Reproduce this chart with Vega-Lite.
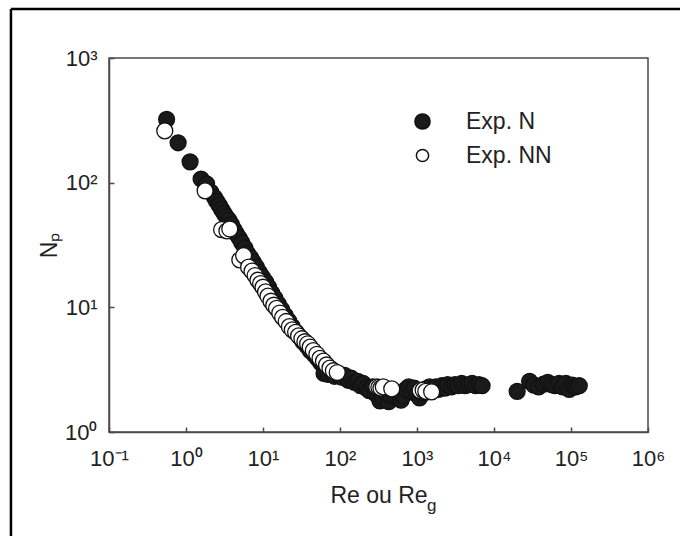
{
  "$schema": "https://vega.github.io/schema/vega-lite/v6.json",
  "width": 539,
  "height": 374,
  "autosize": {"type": "none"},
  "padding": {"left": 109, "top": 58, "right": 32, "bottom": 104},
  "background": "white",
  "config": {
    "view": {"stroke": "#4a4a4a", "strokeWidth": 1.5},
    "font": "Liberation Sans",
    "axis": {
      "grid": false,
      "domainColor": "#4a4a4a",
      "domainWidth": 1.5,
      "tickColor": "#4a4a4a",
      "tickWidth": 1.5,
      "tickSize": -5,
      "labelFont": "Liberation Sans",
      "labelFontSize": 22,
      "labelColor": "#222",
      "titleFont": "Liberation Sans",
      "titleFontSize": 23,
      "titleFontWeight": "normal",
      "titleColor": "#222"
    },
    "legend": {
      "labelFont": "Liberation Sans",
      "labelFontSize": 23,
      "labelColor": "#222"
    }
  },
  "layer": [
    {
      "data": {
        "values": [
          {"Re": 0.56, "Np": 322, "serie": "Exp. N"},
          {"Re": 0.79, "Np": 209, "serie": "Exp. N"},
          {"Re": 1.13, "Np": 147, "serie": "Exp. N"},
          {"Re": 1.57, "Np": 107, "serie": "Exp. N"},
          {"Re": 1.85, "Np": 98, "serie": "Exp. N"},
          {"Re": 2.1, "Np": 84, "serie": "Exp. N"},
          {"Re": 2.35, "Np": 76, "serie": "Exp. N"},
          {"Re": 2.5, "Np": 71, "serie": "Exp. N"},
          {"Re": 2.7, "Np": 66, "serie": "Exp. N"},
          {"Re": 2.9, "Np": 61, "serie": "Exp. N"},
          {"Re": 3.1, "Np": 57, "serie": "Exp. N"},
          {"Re": 3.35, "Np": 53, "serie": "Exp. N"},
          {"Re": 3.6, "Np": 50, "serie": "Exp. N"},
          {"Re": 3.9, "Np": 46, "serie": "Exp. N"},
          {"Re": 4.2, "Np": 42, "serie": "Exp. N"},
          {"Re": 4.5, "Np": 39, "serie": "Exp. N"},
          {"Re": 4.9, "Np": 36, "serie": "Exp. N"},
          {"Re": 5.3, "Np": 33, "serie": "Exp. N"},
          {"Re": 5.8, "Np": 30, "serie": "Exp. N"},
          {"Re": 6.3, "Np": 27, "serie": "Exp. N"},
          {"Re": 6.9, "Np": 25, "serie": "Exp. N"},
          {"Re": 7.5, "Np": 23, "serie": "Exp. N"},
          {"Re": 8.2, "Np": 21, "serie": "Exp. N"},
          {"Re": 9.0, "Np": 19, "serie": "Exp. N"},
          {"Re": 9.8, "Np": 17.5, "serie": "Exp. N"},
          {"Re": 10.8, "Np": 16, "serie": "Exp. N"},
          {"Re": 11.8, "Np": 14.5, "serie": "Exp. N"},
          {"Re": 13, "Np": 13, "serie": "Exp. N"},
          {"Re": 14.3, "Np": 11.8, "serie": "Exp. N"},
          {"Re": 15.8, "Np": 10.6, "serie": "Exp. N"},
          {"Re": 17.5, "Np": 9.6, "serie": "Exp. N"},
          {"Re": 19.5, "Np": 8.6, "serie": "Exp. N"},
          {"Re": 21.5, "Np": 7.8, "serie": "Exp. N"},
          {"Re": 24, "Np": 7.0, "serie": "Exp. N"},
          {"Re": 27, "Np": 6.3, "serie": "Exp. N"},
          {"Re": 30, "Np": 5.8, "serie": "Exp. N"},
          {"Re": 33, "Np": 5.3, "serie": "Exp. N"},
          {"Re": 37, "Np": 4.9, "serie": "Exp. N"},
          {"Re": 41, "Np": 4.5, "serie": "Exp. N"},
          {"Re": 46, "Np": 4.2, "serie": "Exp. N"},
          {"Re": 51, "Np": 3.9, "serie": "Exp. N"},
          {"Re": 56, "Np": 3.6, "serie": "Exp. N"},
          {"Re": 62, "Np": 3.4, "serie": "Exp. N"},
          {"Re": 68, "Np": 3.2, "serie": "Exp. N"},
          {"Re": 62, "Np": 2.95, "serie": "Exp. N"},
          {"Re": 70, "Np": 2.9, "serie": "Exp. N"},
          {"Re": 78, "Np": 3.1, "serie": "Exp. N"},
          {"Re": 85, "Np": 2.8, "serie": "Exp. N"},
          {"Re": 95, "Np": 2.95, "serie": "Exp. N"},
          {"Re": 105, "Np": 2.75, "serie": "Exp. N"},
          {"Re": 115, "Np": 2.85, "serie": "Exp. N"},
          {"Re": 128, "Np": 2.6, "serie": "Exp. N"},
          {"Re": 140, "Np": 2.7, "serie": "Exp. N"},
          {"Re": 155, "Np": 2.5, "serie": "Exp. N"},
          {"Re": 170, "Np": 2.55, "serie": "Exp. N"},
          {"Re": 185, "Np": 2.35, "serie": "Exp. N"},
          {"Re": 200, "Np": 2.45, "serie": "Exp. N"},
          {"Re": 220, "Np": 2.25, "serie": "Exp. N"},
          {"Re": 240, "Np": 2.15, "serie": "Exp. N"},
          {"Re": 265, "Np": 2.3, "serie": "Exp. N"},
          {"Re": 285, "Np": 2.05, "serie": "Exp. N"},
          {"Re": 310, "Np": 1.95, "serie": "Exp. N"},
          {"Re": 330, "Np": 1.78, "serie": "Exp. N"},
          {"Re": 355, "Np": 1.9, "serie": "Exp. N"},
          {"Re": 380, "Np": 2.15, "serie": "Exp. N"},
          {"Re": 400, "Np": 2.0, "serie": "Exp. N"},
          {"Re": 430, "Np": 1.75, "serie": "Exp. N"},
          {"Re": 460, "Np": 1.95, "serie": "Exp. N"},
          {"Re": 500, "Np": 2.1, "serie": "Exp. N"},
          {"Re": 540, "Np": 1.9, "serie": "Exp. N"},
          {"Re": 580, "Np": 2.05, "serie": "Exp. N"},
          {"Re": 620, "Np": 1.8, "serie": "Exp. N"},
          {"Re": 660, "Np": 1.95, "serie": "Exp. N"},
          {"Re": 720, "Np": 2.2, "serie": "Exp. N"},
          {"Re": 780, "Np": 2.3, "serie": "Exp. N"},
          {"Re": 850, "Np": 2.1, "serie": "Exp. N"},
          {"Re": 920, "Np": 2.25, "serie": "Exp. N"},
          {"Re": 1000, "Np": 2.0, "serie": "Exp. N"},
          {"Re": 1080, "Np": 1.88, "serie": "Exp. N"},
          {"Re": 1150, "Np": 2.05, "serie": "Exp. N"},
          {"Re": 1250, "Np": 2.2, "serie": "Exp. N"},
          {"Re": 1350, "Np": 2.1, "serie": "Exp. N"},
          {"Re": 1450, "Np": 2.3, "serie": "Exp. N"},
          {"Re": 1600, "Np": 2.2, "serie": "Exp. N"},
          {"Re": 1750, "Np": 2.3, "serie": "Exp. N"},
          {"Re": 1900, "Np": 2.2, "serie": "Exp. N"},
          {"Re": 2100, "Np": 2.35, "serie": "Exp. N"},
          {"Re": 2300, "Np": 2.25, "serie": "Exp. N"},
          {"Re": 2500, "Np": 2.4, "serie": "Exp. N"},
          {"Re": 2800, "Np": 2.3, "serie": "Exp. N"},
          {"Re": 3100, "Np": 2.4, "serie": "Exp. N"},
          {"Re": 3400, "Np": 2.35, "serie": "Exp. N"},
          {"Re": 3800, "Np": 2.45, "serie": "Exp. N"},
          {"Re": 4200, "Np": 2.35, "serie": "Exp. N"},
          {"Re": 4700, "Np": 2.4, "serie": "Exp. N"},
          {"Re": 5200, "Np": 2.45, "serie": "Exp. N"},
          {"Re": 5800, "Np": 2.35, "serie": "Exp. N"},
          {"Re": 6400, "Np": 2.4, "serie": "Exp. N"},
          {"Re": 7000, "Np": 2.35, "serie": "Exp. N"},
          {"Re": 20000, "Np": 2.12, "serie": "Exp. N"},
          {"Re": 29000, "Np": 2.55, "serie": "Exp. N"},
          {"Re": 33000, "Np": 2.38, "serie": "Exp. N"},
          {"Re": 38000, "Np": 2.3, "serie": "Exp. N"},
          {"Re": 44000, "Np": 2.42, "serie": "Exp. N"},
          {"Re": 50000, "Np": 2.5, "serie": "Exp. N"},
          {"Re": 56000, "Np": 2.4, "serie": "Exp. N"},
          {"Re": 62000, "Np": 2.35, "serie": "Exp. N"},
          {"Re": 70000, "Np": 2.45, "serie": "Exp. N"},
          {"Re": 78000, "Np": 2.3, "serie": "Exp. N"},
          {"Re": 86000, "Np": 2.45, "serie": "Exp. N"},
          {"Re": 95000, "Np": 2.2, "serie": "Exp. N"},
          {"Re": 104000, "Np": 2.38, "serie": "Exp. N"},
          {"Re": 115000, "Np": 2.3, "serie": "Exp. N"},
          {"Re": 128000, "Np": 2.35, "serie": "Exp. N"},
          {"Re": 0.53, "Np": 260, "serie": "Exp. NN"},
          {"Re": 1.77, "Np": 86, "serie": "Exp. NN"},
          {"Re": 2.9, "Np": 42, "serie": "Exp. NN"},
          {"Re": 3.4, "Np": 41, "serie": "Exp. NN"},
          {"Re": 3.7, "Np": 42.5, "serie": "Exp. NN"},
          {"Re": 5.0, "Np": 24, "serie": "Exp. NN"},
          {"Re": 5.6, "Np": 26, "serie": "Exp. NN"},
          {"Re": 6.5, "Np": 21, "serie": "Exp. NN"},
          {"Re": 7.2, "Np": 19.5, "serie": "Exp. NN"},
          {"Re": 7.9, "Np": 18, "serie": "Exp. NN"},
          {"Re": 8.6, "Np": 16.5, "serie": "Exp. NN"},
          {"Re": 9.3, "Np": 15.5, "serie": "Exp. NN"},
          {"Re": 10, "Np": 14.5, "serie": "Exp. NN"},
          {"Re": 10.8, "Np": 13.3, "serie": "Exp. NN"},
          {"Re": 11.6, "Np": 12.3, "serie": "Exp. NN"},
          {"Re": 12.7, "Np": 11.2, "serie": "Exp. NN"},
          {"Re": 13.8, "Np": 10.4, "serie": "Exp. NN"},
          {"Re": 15, "Np": 9.8, "serie": "Exp. NN"},
          {"Re": 16.5, "Np": 9.0, "serie": "Exp. NN"},
          {"Re": 18, "Np": 8.3, "serie": "Exp. NN"},
          {"Re": 20, "Np": 7.7, "serie": "Exp. NN"},
          {"Re": 22, "Np": 7.0, "serie": "Exp. NN"},
          {"Re": 24, "Np": 6.6, "serie": "Exp. NN"},
          {"Re": 26.5, "Np": 6.3, "serie": "Exp. NN"},
          {"Re": 29, "Np": 5.9, "serie": "Exp. NN"},
          {"Re": 32, "Np": 5.6, "serie": "Exp. NN"},
          {"Re": 35, "Np": 5.3, "serie": "Exp. NN"},
          {"Re": 38, "Np": 5.1, "serie": "Exp. NN"},
          {"Re": 41, "Np": 4.8, "serie": "Exp. NN"},
          {"Re": 45, "Np": 4.5, "serie": "Exp. NN"},
          {"Re": 50, "Np": 4.2, "serie": "Exp. NN"},
          {"Re": 55, "Np": 3.9, "serie": "Exp. NN"},
          {"Re": 61, "Np": 3.7, "serie": "Exp. NN"},
          {"Re": 67, "Np": 3.45, "serie": "Exp. NN"},
          {"Re": 74, "Np": 3.25, "serie": "Exp. NN"},
          {"Re": 82, "Np": 3.1, "serie": "Exp. NN"},
          {"Re": 92, "Np": 3.0, "serie": "Exp. NN"},
          {"Re": 300, "Np": 2.3, "serie": "Exp. NN"},
          {"Re": 320, "Np": 2.28, "serie": "Exp. NN"},
          {"Re": 340, "Np": 2.25, "serie": "Exp. NN"},
          {"Re": 365, "Np": 2.3, "serie": "Exp. NN"},
          {"Re": 470, "Np": 2.22, "serie": "Exp. NN"},
          {"Re": 1100, "Np": 2.15, "serie": "Exp. NN"},
          {"Re": 1200, "Np": 2.17, "serie": "Exp. NN"},
          {"Re": 1300, "Np": 2.12, "serie": "Exp. NN"},
          {"Re": 1550, "Np": 2.1, "serie": "Exp. NN"}
        ]
      },
      "mark": {"type": "circle", "size": 254, "stroke": "#111", "strokeWidth": 1.3, "opacity": 1, "fillOpacity": 1},
      "encoding": {
        "x": {
          "field": "Re", "type": "quantitative",
          "scale": {"type": "log", "domain": [0.1, 1000000], "nice": false},
          "axis": {
            "title": "Re ou Re",
            "values": [0.1, 1, 10, 100, 1000, 10000, 100000, 1000000],
            "labelExpr": "['10⁻¹','10⁰','10¹','10²','10³','10⁴','10⁵','10⁶'][round(log(datum.value)/LN10)+1]",
            "labelPadding": 21,
            "labelFlush": false,
            "labelOverlap": false,
            "titlePadding": 15
          }
        },
        "y": {
          "field": "Np", "type": "quantitative",
          "scale": {"type": "log", "domain": [1, 1000], "nice": false},
          "axis": {
            "title": "Nₚ",
            "values": [1, 10, 100, 1000],
            "labelExpr": "['10⁰','10¹','10²','10³'][round(log(datum.value)/LN10)]",
            "labelPadding": 17,
            "labelFlush": false,
            "labelOverlap": false,
            "titlePadding": 3
          }
        },
        "fill": {
          "field": "serie", "type": "nominal",
          "scale": {"domain": ["Exp. N", "Exp. NN"], "range": ["#1a1a1a", "#ffffff"]},
          "legend": {
            "title": null,
            "orient": "none",
            "legendX": 302,
            "legendY": 52,
            "symbolType": "circle",
            "symbolSize": 230,
            "symbolStrokeColor": "#111",
            "symbolStrokeWidth": 1.5,
            "symbolOpacity": 1,
            "labelOffset": 32,
            "rowPadding": 10,
            "encode": {
              "symbols": {
                "update": {
                  "size": {"signal": "datum.value === 'Exp. NN' ? 150 : 230"}
                }
              }
            }
          }
        }
      }
    },
    {
      "data": {"values": [{}]},
      "mark": {"type": "text", "text": "g", "align": "left", "baseline": "alphabetic", "font": "Liberation Sans", "fontSize": 17, "color": "#222", "clip": false},
      "encoding": {
        "x": {"datum": 1349, "type": "quantitative"},
        "y": {"datum": 0.234, "type": "quantitative"}
      }
    },
    {
      "data": {"values": [{}]},
      "mark": {"type": "rule", "color": "#000", "strokeWidth": 2.5, "clip": false},
      "encoding": {
        "x": {"datum": 0.00533, "type": "quantitative"},
        "y": {"datum": 2472, "type": "quantitative"},
        "y2": {"datum": 0.05}
      }
    },
    {
      "data": {"values": [{}]},
      "mark": {"type": "rule", "color": "#000", "strokeWidth": 2.5, "clip": false},
      "encoding": {
        "x": {"datum": 0.00533, "type": "quantitative"},
        "x2": {"datum": 100000000},
        "y": {"datum": 2472, "type": "quantitative"}
      }
    }
  ]
}
